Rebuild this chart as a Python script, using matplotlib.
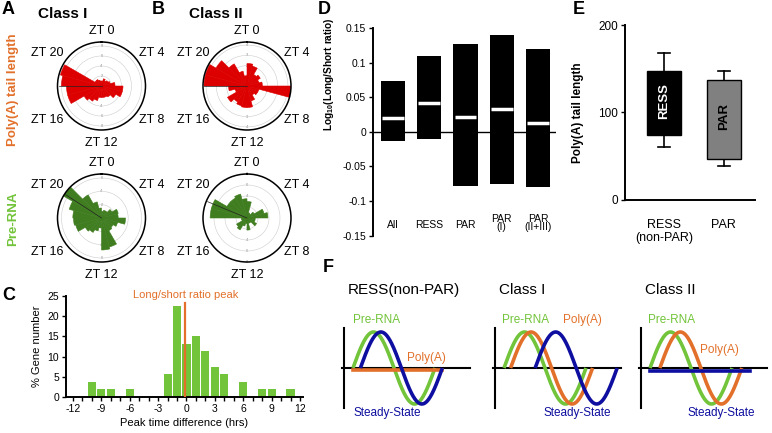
import numpy as np
import matplotlib
matplotlib.use('Agg')
import matplotlib.pyplot as plt

plt.rcParams['font.family'] = ['Liberation Sans', 'DejaVu Sans']
plt.rcParams['axes.unicode_minus'] = False
plt.rcParams['mathtext.default'] = 'regular'

W, H = 772, 433

# --- A/B: rose plots, 24 hourly bins (ZT0 .. ZT23) ---
zt_bins = np.arange(24)
c1_polya = [1.0, 1.5, 1.2, 1.5, 1.8, 2.7, 4.3, 4.3, 3.3, 2.5, 2.3, 2.3,
            2.3, 3.0, 3.5, 4.0, 7.0, 7.0, 8.0, 8.5, 1.5, 1.5, 1.2, 1.0]
c2_polya = [2.2, 2.0, 1.3, 1.5, 1.2, 1.5, 4.5, 1.2, 1.2, 1.0, 1.5, 2.1,
            2.1, 2.0, 1.8, 2.2, 1.2, 1.8, 4.2, 4.2, 3.5, 2.5, 1.5, 1.0]
c1_pre = [1.0, 1.2, 1.2, 1.8, 2.6, 2.5, 3.6, 2.5, 2.0, 2.2, 4.5, 4.8,
          1.5, 2.0, 2.5, 2.8, 4.0, 4.2, 4.3, 5.0, 6.6, 4.0, 2.5, 1.5]
c2_pre = [3.0, 1.0, 0.8, 1.5, 3.2, 3.8, 1.5, 1.5, 2.0, 1.0, 1.0, 2.2,
          1.0, 1.5, 2.5, 2.2, 1.0, 1.0, 6.7, 6.7, 4.2, 4.2, 4.5, 3.5]
zt_labels = [0, 4, 8, 12, 16, 20]

# --- C: histogram of peak time difference ---
peak_diff_hrs = [-10, -9, -8, -6, -2, -1, 0, 1, 2, 3, 4, 6, 8, 9, 11]
gene_pct = [3.8, 1.9, 1.9, 1.9, 5.7, 22.6, 13.2, 15.1, 11.3, 7.5, 5.7, 3.8, 1.9, 1.9, 1.9]
ratio_peak = -0.15

# --- D: log10 long/short ratio ---
d_groups = ['All', 'RESS', 'PAR', 'PAR\n(I)', 'PAR\n(II+III)']
d_low = [-0.013, -0.011, -0.078, -0.075, -0.080]
d_high = [0.073, 0.109, 0.127, 0.140, 0.120]
d_median = [0.020, 0.041, 0.021, 0.033, 0.013]

# --- E: poly(A) tail length ---
e_groups = ['RESS\n(non-PAR)', 'PAR']
e_names = ['RESS', 'PAR']
e_q1 = [74, 47]
e_q3 = [147, 137]
e_wlo = [61, 39]
e_whi = [168, 147]

# --- F: schematic, phase shift in cycles (None = flat) ---
f_titles = ['RESS(non-PAR)', 'Class I', 'Class II']
f_polya_shift = [None, 0.08, 0.12]
f_steady_shift = [0.09, 0.38, None]

GREEN = '#72C43A'
ORANGE = '#E2702A'
BLUE = '#0E0EA0'

fig = plt.figure(figsize=(W / 100, H / 100), dpi=100)


def px_box(x0, y0, x1, y1):
    return [x0 / W, 1 - y1 / H, (x1 - x0) / W, (y1 - y0) / H]


def ftext(x, y, s, **kw):
    fig.text(x / W, 1 - y / H, s, **kw)


def rose(cx, cy, values, rings, rmax, color, mean_zt):
    ax = fig.add_axes(px_box(cx - 44, cy - 44, cx + 44, cy + 44), projection='polar')
    ax.set_theta_zero_location('N')
    ax.set_theta_direction(-1)
    theta = zt_bins * 2 * np.pi / 24
    ax.bar(theta, values, width=2 * np.pi / 24, align='edge', color=color,
           edgecolor=color, lw=0.4, zorder=2)
    ax.set_ylim(0, rmax)
    ax.set_xticks([])
    ax.set_yticks(rings)
    ax.set_yticklabels([])
    ax.yaxis.grid(True, color='#cccccc', lw=0.4)
    ax.xaxis.grid(False)
    ax.spines['polar'].set_linewidth(1.1)
    for r in rings:
        for t in (0, np.pi):
            ax.text(t, r, str(r), fontsize=3, color='#888888', ha='center',
                    va='center', zorder=1)
    mt = mean_zt * 2 * np.pi / 24
    ax.plot([mt, mt], [0, rmax * 0.97], color='#222222', lw=0.5, zorder=3)
    offs = [(0, -55), (50, -33), (50, 34), (0, 57), (-54, 34), (-54, -33)]
    for zt, (dx, dy) in zip(zt_labels, offs):
        ftext(cx + dx, cy + dy, f'ZT {zt}', fontsize=9, ha='center', va='center')


rose(101.5, 86, c1_polya, [2, 4, 6, 8], 8.8, '#DD0000', 18)
rose(247, 86, c2_polya, [1, 2, 3, 4], 4.3, '#DD0000', 18)
rose(101.5, 218, c1_pre, [2, 4, 6], 6.6, '#3F7D20', 20.2)
rose(247, 218, c2_pre, [2, 4, 6, 8], 8.0, '#3F7D20', 19.5)

ftext(2, 9, 'A', fontsize=13, fontweight='bold', va='center')
ftext(152, 9, 'B', fontsize=13, fontweight='bold', va='center')
ftext(63, 14, 'Class I', fontsize=11, fontweight='bold', ha='center', va='center')
ftext(216, 14, 'Class II', fontsize=11, fontweight='bold', ha='center', va='center')
ftext(13, 90, 'Poly(A) tail length', fontsize=9.5, fontweight='bold', color=ORANGE,
      rotation=90, ha='center', va='center')
ftext(13, 219, 'Pre-RNA', fontsize=9.5, fontweight='bold', color=GREEN,
      rotation=90, ha='center', va='center')

# --- C ---
axc = fig.add_axes(px_box(66, 296, 303, 397))
axc.bar(peak_diff_hrs, gene_pct, width=0.85, color=GREEN, zorder=2)
axc.plot([ratio_peak, ratio_peak], [0, 23.2], color=ORANGE, lw=1.6, zorder=3)
axc.set_xlim(-12.74, 12.32)
axc.set_ylim(0, 25)
axc.set_xticks(np.arange(-12, 13, 3))
axc.set_xticks(np.arange(-12, 13, 1), minor=True)
axc.set_yticks(np.arange(0, 26, 5))
for s in ['top', 'right']:
    axc.spines[s].set_visible(False)
for s in ['left', 'bottom']:
    axc.spines[s].set_linewidth(1.4)
axc.tick_params(direction='out', length=3, width=1, labelsize=7.5, pad=2)
axc.tick_params(which='minor', length=3, width=1)
axc.set_ylabel('% Gene number', fontsize=8, labelpad=4)
axc.set_xlabel('Peak time difference (hrs)', fontsize=8, labelpad=3)
axc.text(-0.05, 25.3, 'Long/short ratio peak', color=ORANGE, fontsize=8,
         ha='center', va='center', clip_on=False)
ftext(2, 296, 'C', fontsize=13, fontweight='bold', va='center')

# --- D ---
axd = fig.add_axes(px_box(373, 28, 556, 235.5))
xd = np.arange(len(d_groups))
axd.bar(xd, np.array(d_high) - np.array(d_low), bottom=d_low, width=0.67,
        color='black', zorder=2)
axd.hlines(d_median, xd - 0.3, xd + 0.3, color='white', lw=2.5, zorder=3)
axd.axhline(0, color='black', lw=1, zorder=1)
axd.set_xlim(-0.55, 4.5)
axd.set_ylim(-0.15, 0.15)
d_ticks = [0.15, 0.1, 0.05, 0, -0.05, -0.1, -0.15]
axd.set_yticks(d_ticks)
axd.set_yticklabels(['0.15', '0.1', '0.05', '0', '-0.05', '-0.1', '-0.15'])
axd.get_yticklabels()[-1].set_fontsize(6)
axd.set_xticks([])
for s in ['top', 'right', 'bottom']:
    axd.spines[s].set_visible(False)
axd.spines['left'].set_linewidth(1.4)
axd.tick_params(axis='y', direction='out', length=3, width=1, labelsize=7.5, pad=2)
for x, g in zip(xd, d_groups):
    yy = -0.132 if '\n' in g else -0.135
    axd.text(x, yy, g, fontsize=7.5, ha='center', va='center', linespacing=0.85)
axd.set_ylabel(r'Log$_{10}$(Long/Short ratio)', fontsize=7.3, fontweight='bold')
axd.yaxis.set_label_coords(-0.2, 0.78)
ftext(318, 9, 'D', fontsize=13, fontweight='bold', va='center')

# --- E ---
axe = fig.add_axes(px_box(625, 25, 755, 200))
e_colors = ['black', '#808080']
e_txt = ['white', 'black']
for i in range(len(e_groups)):
    axe.plot([i, i], [e_wlo[i], e_q1[i]], color='black', lw=1.2)
    axe.plot([i, i], [e_q3[i], e_whi[i]], color='black', lw=1.2)
    axe.plot([i - 0.1, i + 0.1], [e_wlo[i], e_wlo[i]], color='black', lw=1.2)
    axe.plot([i - 0.1, i + 0.1], [e_whi[i], e_whi[i]], color='black', lw=1.2)
    axe.bar(i, e_q3[i] - e_q1[i], bottom=e_q1[i], width=0.57, color=e_colors[i],
            edgecolor='black', lw=1, zorder=2)
    axe.text(i, (e_q1[i] + e_q3[i]) / 2 + 3, e_names[i], rotation=90, color=e_txt[i],
             fontsize=9.5, fontweight='bold', ha='center', va='center', zorder=3)
axe.set_xlim(-0.65, 1.52)
axe.set_ylim(0, 200)
axe.set_yticks([0, 100, 200])
axe.set_xticks([0, 1])
axe.set_xticklabels(e_groups, fontsize=9, linespacing=1.1)
for s in ['top', 'right']:
    axe.spines[s].set_visible(False)
for s in ['left', 'bottom']:
    axe.spines[s].set_linewidth(1.4)
axe.tick_params(axis='y', direction='out', length=3, width=1, labelsize=8.5, pad=2)
axe.tick_params(axis='x', length=0, pad=14)
axe.set_ylabel('Poly(A) tail length', fontsize=8.5, fontweight='bold')
axe.yaxis.set_label_coords(-0.315, 0.5)
ftext(573, 9, 'E', fontsize=13, fontweight='bold', va='center')

# --- F ---
ftext(323, 268, 'F', fontsize=13, fontweight='bold', va='center')
f_lefts = [340, 491, 637]
x = np.linspace(0, 1, 200)
for i, left in enumerate(f_lefts):
    ax = fig.add_axes(px_box(left, 325, left + 136, 411))
    ax.set_xlim(-13 / 82, 123 / 82)
    ax.set_ylim(-43 / 36, 43 / 36)
    ax.axis('off')
    ax.plot([-0.11, -0.11], [-1.11, 1.11], color='black', lw=1.5)
    ax.plot([-0.13, 1.43], [0, 0], color='black', lw=1.5)
    ax.plot(x, np.sin(2 * np.pi * x), color=GREEN, lw=2.6, solid_capstyle='butt')
    ps = f_polya_shift[i]
    if ps is None:
        ax.plot([0, 1.08], [-0.05, -0.05], color=ORANGE, lw=2.6)
    else:
        ax.plot(x + ps, np.sin(2 * np.pi * x), color=ORANGE, lw=2.6, solid_capstyle='butt')
    ss = f_steady_shift[i]
    if ss is None:
        ax.plot([0, 1.22], [-0.07, -0.07], color=BLUE, lw=2.6)
    else:
        ax.plot(x + ss, np.sin(2 * np.pi * x), color=BLUE, lw=2.6, solid_capstyle='butt')
    ftext(left + 8, 290, f_titles[i], fontsize=11, va='center')

# F curve labels
ftext(353, 320, 'Pre-RNA', color=GREEN, fontsize=8.5, va='center')
ftext(426, 358, 'Poly(A)', color=ORANGE, fontsize=8.5, ha='center', va='center')
ftext(353, 413, 'Steady-State', color=BLUE, fontsize=8.5, va='center')
ftext(502, 320, 'Pre-RNA', color=GREEN, fontsize=8.5, va='center')
ftext(563, 320, 'Poly(A)', color=ORANGE, fontsize=8.5, va='center')
ftext(543, 413, 'Steady-State', color=BLUE, fontsize=8.5, va='center')
ftext(648, 320, 'Pre-RNA', color=GREEN, fontsize=8.5, va='center')
ftext(700, 350, 'Poly(A)', color=ORANGE, fontsize=8.5, va='center')
ftext(688, 413, 'Steady-State', color=BLUE, fontsize=8.5, va='center')

fig.savefig('out.png', dpi=100)
